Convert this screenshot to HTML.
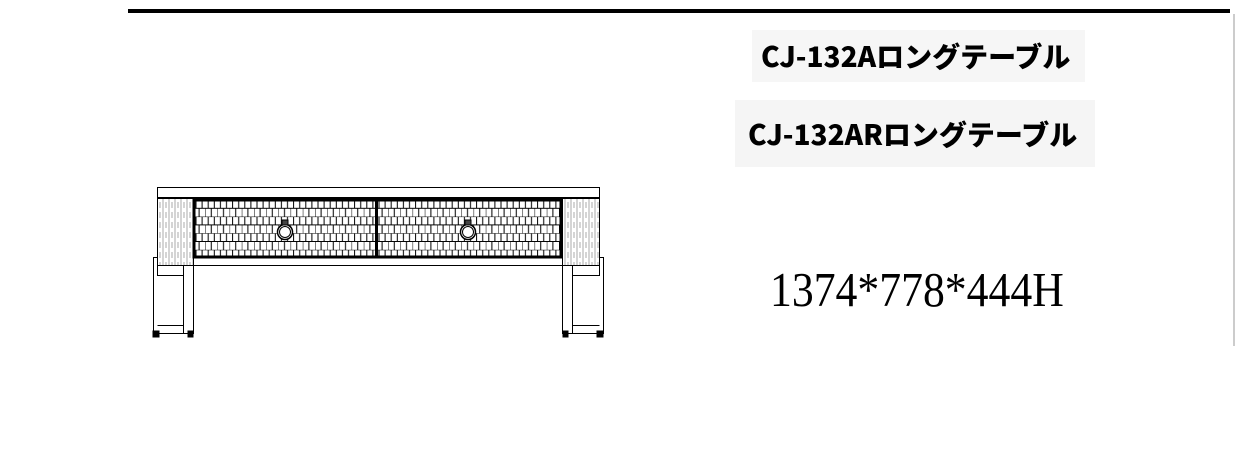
<!DOCTYPE html>
<html><head><meta charset="utf-8"><style>
html,body{margin:0;padding:0;background:#fff;width:1238px;height:463px;overflow:hidden;position:relative}
.bar{position:absolute;left:128px;top:9px;width:1102px;height:4px;background:#000}
.vr{position:absolute;left:1233px;top:14px;width:2px;height:332px;background:#ccc}
.t{position:absolute;font-family:"Noto Sans CJK JP","Liberation Sans",sans-serif;font-weight:900;font-size:28px;color:#000;white-space:nowrap;line-height:1}
.dim{position:absolute;left:770px;top:266px;font-family:"Liberation Serif",serif;font-size:46px;line-height:1;transform:scale(0.95,1.05);transform-origin:0 0;white-space:nowrap}
</style></head><body>
<div class="bar"></div><div class="vr"></div>
<div class="t" style="left:752px;top:30px;width:333px;height:52px;background:#f6f6f6"><span style="position:absolute;left:9px;top:12px">CJ-132Aロングテーブル</span></div>
<div class="t" style="left:735px;top:100px;width:360px;height:67px;background:#f5f5f5"><span style="position:absolute;left:13px;top:20px">CJ-132ARロングテーブル</span></div>
<div class="dim">1374*778*444H</div>
<svg style="position:absolute;left:0;top:0" width="1238" height="463">
<defs>
<pattern id="b" x="193" y="200" width="12.2" height="16.6" patternUnits="userSpaceOnUse">
<path d="M0 0H12.2M0 8.3H12.2M3 0V8.3M9.1 0V8.3M0 8.3V16.6M6.1 8.3V16.6" stroke="#000" stroke-width="1" fill="none"/>
</pattern>
<pattern id="w" width="6" height="10" patternUnits="userSpaceOnUse">
<path d="M1 0V10M4 2V8" stroke="#aaa" stroke-width="1"/>
</pattern>
</defs>
<g fill="none" stroke="#000" stroke-width="1">
<rect x="157.5" y="187.5" width="442" height="10"/>
<line x1="157" y1="198" x2="600" y2="198" stroke-width="2"/>
<rect x="157.5" y="198.5" width="36" height="67" fill="url(#w)"/>
<rect x="562.5" y="198.5" width="37" height="67" fill="url(#w)"/>
<rect x="194" y="200" width="367" height="57" fill="url(#b)" stroke-width="3"/>
<line x1="376.5" y1="199" x2="376.5" y2="258" stroke-width="3"/>
<line x1="157" y1="265.5" x2="600" y2="265.5"/>
<circle cx="285" cy="232" r="7.5" stroke-width="1.5" fill="#fff"/>
<circle cx="285" cy="232" r="5.5"/>
<rect x="282" y="220" width="6" height="5" fill="#444"/>
<circle cx="468" cy="232" r="7.5" stroke-width="1.5" fill="#fff"/>
<circle cx="468" cy="232" r="5.5"/>
<rect x="465" y="220" width="6" height="5" fill="#444"/>
<path d="M153.5 334V257.5H157.5"/>
<rect x="157.5" y="265.5" width="26" height="10"/>
<line x1="183.5" y1="275" x2="183.5" y2="334"/>
<line x1="193.5" y1="265" x2="193.5" y2="334"/>
<line x1="157.5" y1="325.5" x2="183.5" y2="325.5"/>
<line x1="153" y1="333.5" x2="193" y2="333.5"/>
<rect x="153" y="331" width="6" height="6" fill="#000"/>
<rect x="188" y="331" width="5" height="6" fill="#000"/>
<path d="M603.5 334V257.5H599.5"/>
<rect x="572.5" y="265.5" width="27" height="10"/>
<line x1="572.5" y1="275" x2="572.5" y2="334"/>
<line x1="562.5" y1="265" x2="562.5" y2="334"/>
<line x1="572.5" y1="325.5" x2="599.5" y2="325.5"/>
<line x1="562" y1="333.5" x2="603" y2="333.5"/>
<rect x="563" y="331" width="5" height="6" fill="#000"/>
<rect x="597" y="331" width="6" height="6" fill="#000"/>
</g>
</svg>
</body></html>
